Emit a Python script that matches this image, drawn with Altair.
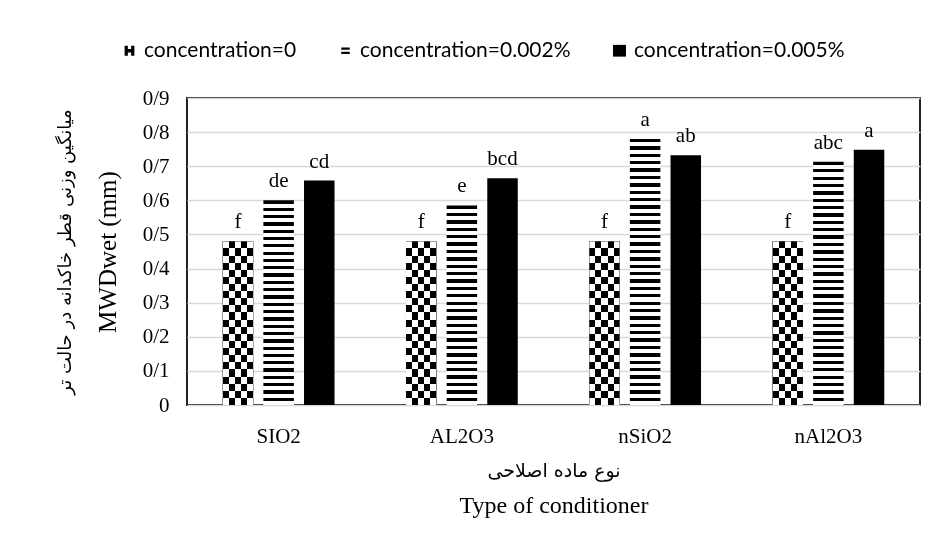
import altair as alt
import pandas as pd

categories = ["SIO2", "AL2O3", "nSiO2", "nAl2O3"]
series = ["concentration=0", "concentration=0.002%", "concentration=0.005%"]
values_0 = [0.48, 0.48, 0.48, 0.48]
values_002 = [0.60, 0.585, 0.78, 0.713]
values_005 = [0.658, 0.665, 0.732, 0.748]
letters_0 = ["f", "f", "f", "f"]
letters_002 = ["de", "e", "a", "abc"]
letters_005 = ["cd", "bcd", "ab", "a"]
y_ticks = [0, 0.1, 0.2, 0.3, 0.4, 0.5, 0.6, 0.7, 0.8, 0.9]

y_title_fa = "میانگین وزنی قطر خاکدانه در حالت تر"
y_title_en = "MWDwet (mm)"
x_title_fa = "نوع ماده اصلاحی"
x_title_en = "Type of conditioner"

rows = []
for s, vals, lets in [(series[0], values_0, letters_0),
                      (series[1], values_002, letters_002),
                      (series[2], values_005, letters_005)]:
    for c, v, l in zip(categories, vals, lets):
        rows.append({"category": c, "series": s, "value": v, "letter": l})
df = pd.DataFrame(rows)

W, H = 733, 307
PX_PER_UNIT = H / 0.9

SERIF = "Liberation Serif"
FA_FONT = "DejaVu Sans"


def cells(n, first, second, vertical=True):
    stops = []
    for i in range(n):
        col = first if i % 2 == 0 else second
        stops.append({"offset": i / n, "color": col})
        stops.append({"offset": (i + 1) / n, "color": col})
    g = {"gradient": "linear", "stops": stops}
    if vertical:
        g.update({"x1": 0, "y1": 0, "x2": 0, "y2": 1})
    else:
        g.update({"x1": 0, "y1": 0, "x2": 1, "y2": 0})
    return g


def stripes(n, frac=0.45):
    stops = []
    for i in range(n):
        a, m, b = i / n, (i + frac) / n, (i + 1) / n
        stops += [{"offset": a, "color": "black"}, {"offset": m, "color": "black"},
                  {"offset": m, "color": "white"}, {"offset": b, "color": "white"}]
    return {"gradient": "linear", "x1": 0, "y1": 0, "x2": 0, "y2": 1, "stops": stops}


x_scale = alt.Scale(domain=categories, paddingInner=0.39, paddingOuter=0.195)
xo_scale = alt.Scale(domain=series, paddingInner=0.25, paddingOuter=0)
y_scale = alt.Scale(domain=[0, 0.9], nice=False, zero=True)


def X(axis=None):
    return alt.X("category:N", scale=x_scale, sort=categories, axis=axis)


def XO():
    return alt.XOffset("series:N", scale=xo_scale, sort=series)


def Y(field="value:Q", axis=None):
    return alt.Y(field, scale=y_scale, axis=axis)


main_x_axis = alt.Axis(orient="bottom", title=x_title_fa, titleFont=FA_FONT, titleFontSize=19,
                       titleFontWeight="normal", titleColor="black",
                       titleX=W / 2, titleY=65, titleBaseline="middle", titleAlign="center",
                       labelFont=SERIF, labelFontSize=21, labelColor="black",
                       labelPadding=20, labelAngle=0, ticks=False, domain=False, grid=False)
outer_x_axis = alt.Axis(orient="bottom", title=x_title_en, titleFont=SERIF, titleFontSize=24,
                        titleFontWeight="normal", titleColor="black",
                        titleX=W / 2, titleY=100, titleBaseline="middle", titleAlign="center",
                        labels=False, ticks=False, domain=False, grid=False)
main_y_axis = alt.Axis(orient="left", title=y_title_en, titleFont=SERIF, titleFontSize=25,
                       titleFontWeight="normal", titleColor="black",
                       titleX=-80, titleY=H / 2, titleAngle=270, titleBaseline="middle",
                       titleAlign="center",
                       values=y_ticks, grid=True, gridColor="#d9d9d9", gridWidth=1.5,
                       labelFont=SERIF, labelFontSize=21, labelColor="black", labelPadding=18,
                       labelExpr="datum.value == 0 ? '0' : replace(format(datum.value, '.1f'), '.', '/')",
                       ticks=False, domain=False)
outer_y_axis = alt.Axis(orient="left", title=y_title_fa, titleFont=FA_FONT, titleFontSize=18,
                        titleFontWeight="normal", titleColor="black",
                        titleX=-122, titleY=H / 2, titleAngle=270, titleBaseline="middle",
                        titleAlign="center",
                        labels=False, ticks=False, domain=False, grid=False)

shape_paths = [
    "M-0.75,-0.75H-0.25V-0.25H-0.75Z M0.25,-0.75H0.75V-0.25H0.25Z M-0.25,-0.25H0.25V0.25H-0.25Z M-0.75,0.25H-0.25V0.75H-0.75Z M0.25,0.25H0.75V0.75H0.25Z M-0.75,-0.25H-0.25V0.25H-0.75Z M0.25,-0.25H0.75V0.25H0.25Z",
    "M-0.65,-0.5H0.65V-0.15H-0.65Z M-0.65,0.15H0.65V0.5H-0.65Z",
    "M-1,-0.9H1V0.9H-1Z",
]

base = alt.Chart(df)

legend_layer = base.transform_calculate(mid="datum.value / 2").mark_point(
    filled=True, size=30, opacity=1, color="black"
).encode(
    x=X(main_x_axis), xOffset=XO(), y=Y("mid:Q", main_y_axis),
    shape=alt.Shape("series:N", scale=alt.Scale(domain=series, range=shape_paths),
                    legend=alt.Legend(title=None, orient="none", direction="horizontal",
                                      legendX=-68, legendY=-58, columns=3, columnPadding=38,
                                      symbolSize=170, symbolFillColor="black",
                                      symbolStrokeWidth=0, labelFont="Lato",
                                      labelFontSize=21, labelColor="black", labelOffset=4,
                                      labelLimit=400)),
)

axis_layer = base.transform_calculate(mid="datum.value / 2").mark_point(
    filled=True, size=1, opacity=0
).encode(x=X(outer_x_axis), xOffset=XO(), y=Y("mid:Q", outer_y_axis))

layers = [legend_layer, axis_layer]

for c in categories:
    # checkerboard bars (concentration=0)
    v0 = float(df[(df.category == c) & (df.series == series[0])].value.iloc[0])
    n_rows = max(2, round(v0 * PX_PER_UNIT / 7))
    f0 = f"datum.category == '{c}' && datum.series == '{series[0]}'"
    layers.append(base.transform_filter(f0).mark_bar(fill=cells(n_rows, "black", "white", True))
                  .encode(x=X(), xOffset=XO(), y=Y()))
    layers.append(base.transform_filter(f0).mark_bar(fill=cells(5, "white", "black", False),
                                                     blend="difference")
                  .encode(x=X(), xOffset=XO(), y=Y()))
    # striped bars (concentration=0.002%)
    v1 = float(df[(df.category == c) & (df.series == series[1])].value.iloc[0])
    n_str = max(2, round(v1 * PX_PER_UNIT / 7.3))
    f1 = f"datum.category == '{c}' && datum.series == '{series[1]}'"
    layers.append(base.transform_filter(f1).mark_bar(fill=stripes(n_str))
                  .encode(x=X(), xOffset=XO(), y=Y()))

# solid bars (concentration=0.005%)
layers.append(base.transform_filter(f"datum.series == '{series[2]}'").mark_bar(fill="black")
              .encode(x=X(), xOffset=XO(), y=Y()))

text_layer = base.mark_text(dy=-13, baseline="alphabetic", font=SERIF, fontSize=21,
                            color="black").encode(
    x=X(), xOffset=XO(), y=Y(), text="letter:N")
layers.append(text_layer)

chart = alt.layer(*layers).resolve_axis(x="independent", y="independent").properties(
    width=W, height=H,
    padding={"left": 48, "top": 32, "right": 5, "bottom": 5},
).configure(background="white").configure_view(stroke="#222222", strokeWidth=2)

chart.save("out.html", embed_options={"renderer": "svg", "actions": False})
